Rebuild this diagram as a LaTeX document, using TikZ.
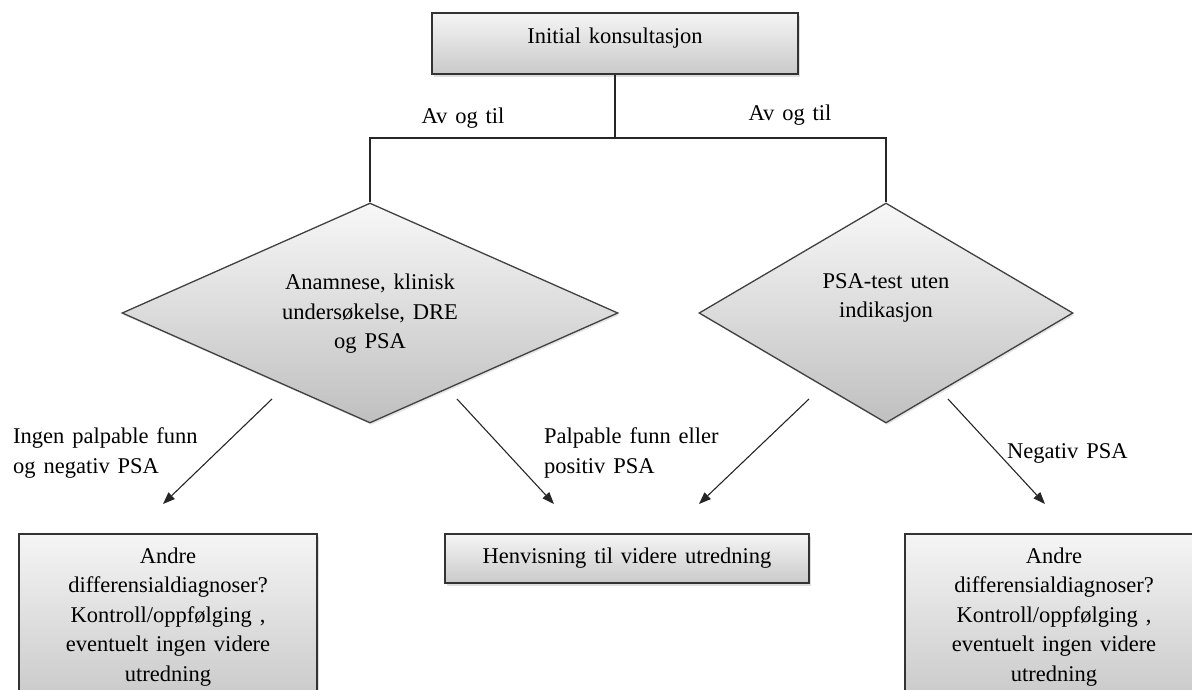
\documentclass[tikz,border=0pt]{standalone}
\usepackage{fontspec}
\setmainfont{Liberation Serif}[WordSpace=1.4]
\usetikzlibrary{shapes.geometric,arrows.meta,shadows}
\begin{document}
\begin{tikzpicture}[x=1pt,y=-1pt,
  box/.style={draw=black!80, line width=1.6pt, top color=gray!8, bottom color=gray!42,
    font=\fontsize{22.5}{29.5}\selectfont, inner sep=0pt,
    drop shadow={opacity=0.25,shadow xshift=2pt,shadow yshift=-3pt}},
  dia/.style={diamond, draw=black!75, line width=1.3pt, top color=gray!6, bottom color=gray!50,
    inner sep=0pt, minimum height=220pt,
    drop shadow={opacity=0.2,shadow xshift=1.5pt,shadow yshift=-2pt}},
  txt/.style={font=\fontsize{22.5}{29.5}\selectfont, inner sep=0pt, align=center},
  lbl/.style={font=\fontsize{22.5}{30.5}\selectfont, inner sep=0pt, align=left, anchor=west},
  conn/.style={draw=black!85, line width=1.3pt},
  arr/.style={conn, line width=1.1pt, -{Triangle[length=12pt,width=9pt]}}
]
\useasboundingbox (0,0) rectangle (1192,689);

% top box
\node[box, minimum width=366pt, minimum height=61pt] (top) at (615,43.5) {};
\node[txt] (toptxt) at (615,38) {Initial konsultasjon};

% diamonds
\node[dia, minimum width=496pt] (dl) at (370,313) {};
\node[txt] (dltxt) at (370,314) {Anamnese, klinisk\\undersøkelse, DRE\\og PSA};
\node[dia, minimum width=374pt] (dr) at (886,313) {};
\node[txt] (drtxt) at (886,298) {PSA-test uten\\indikasjon};

% tree connectors
\coordinate (j) at (615,138);
\coordinate (hl) at (370,138);
\coordinate (hr) at (886,138);
\draw[conn] (top.south) -- (j);
\draw[conn] (dl.north) -- (hl) -- (hr) -- (dr.north);

\node[txt] (av1) at (463,118) {Av og til};
\node[txt] (av2) at (790,115) {Av og til};

% bottom boxes
\node[box, minimum width=298pt, minimum height=166pt] (bl) at (168,617) {};
\node[txt] (bltxt) at (168,617) {Andre\\differensialdiagnoser?\\Kontroll/oppfølging ,\\eventuelt ingen videre\\utredning};
\node[box, minimum width=364pt, minimum height=49pt] (bm) at (627,558.5) {Henvisning til videre utredning};
\node[box, minimum width=298pt, minimum height=166pt] (br) at (1054,617) {};
\node[txt] (brtxt) at (1054,617) {Andre\\differensialdiagnoser?\\Kontroll/oppfølging ,\\eventuelt ingen videre\\utredning};

% arrows
\coordinate (s1) at (272,399); \coordinate (e1) at (163,504);
\coordinate (s2) at (457,399); \coordinate (e2) at (554,504);
\coordinate (s3) at (809,399); \coordinate (e3) at (699,504);
\coordinate (s4) at (948,399); \coordinate (e4) at (1045,504);
\draw[arr] (s1) -- (e1);
\draw[arr] (s2) -- (e2);
\draw[arr] (s3) -- (e3);
\draw[arr] (s4) -- (e4);

% labels
\node[lbl] (l1) at (13,453) {Ingen palpable funn\\og negativ PSA};
\node[lbl] (l2) at (544,453) {Palpable funn eller\\positiv PSA};
\node[lbl] (l3) at (1007,453) {Negativ PSA};
\end{tikzpicture}
\end{document}
